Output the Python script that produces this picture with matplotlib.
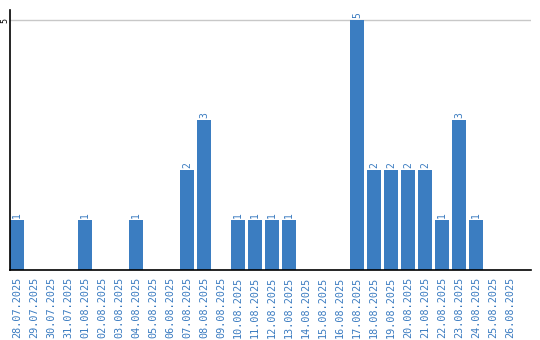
import matplotlib
matplotlib.use("Agg")
import matplotlib.pyplot as plt

dates = ["28.07.2025", "29.07.2025", "30.07.2025", "31.07.2025", "01.08.2025",
         "02.08.2025", "03.08.2025", "04.08.2025", "05.08.2025", "06.08.2025",
         "07.08.2025", "08.08.2025", "09.08.2025", "10.08.2025", "11.08.2025",
         "12.08.2025", "13.08.2025", "14.08.2025", "15.08.2025", "16.08.2025",
         "17.08.2025", "18.08.2025", "19.08.2025", "20.08.2025", "21.08.2025",
         "22.08.2025", "23.08.2025", "24.08.2025", "25.08.2025", "26.08.2025"]
values = [1, 0, 0, 0, 1, 0, 0, 1, 0, 0,
          2, 3, 0, 1, 1, 1, 1, 0, 0, 0,
          5, 2, 2, 2, 2, 1, 3, 1, 0, 0]

BLUE = "#3b7dc1"
TXT = "#3a7bc0"

fig = plt.figure(figsize=(5.4, 3.4), dpi=100)
ax = fig.add_axes([10/540, 70/340, 521/540, 260/340])

x = list(range(len(dates)))
ax.bar(x, values, width=14/17, color=BLUE, zorder=2)
for xi, v in zip(x, values):
    if v > 0:
        ax.annotate(str(v), (xi, v), xytext=(0, 1.5), textcoords="offset points",
                    rotation=90, ha="center", va="bottom", color=TXT,
                    fontsize=7, family="DejaVu Sans Mono")

ax.set_xlim(-7/17, 30.24)
ax.set_ylim(0, 5.2)
ax.set_yticks([5])
ax.set_yticklabels(["5"], rotation=90, va="center", fontsize=6, family="DejaVu Sans Mono")
ax.yaxis.grid(True, color="#c8c8c8", linewidth=1, zorder=0)
ax.set_xticks(x)
ax.set_xticklabels(dates, rotation=90, color=TXT, fontsize=7.3, family="DejaVu Sans Mono")
ax.tick_params(axis="both", length=0)
ax.tick_params(axis="x", pad=5)
ax.tick_params(axis="y", pad=0.5)
for s in ["top", "right"]:
    ax.spines[s].set_visible(False)
for s in ["left", "bottom"]:
    ax.spines[s].set_color("black")
    ax.spines[s].set_linewidth(1.2)

fig.savefig("out.png", dpi=100)
